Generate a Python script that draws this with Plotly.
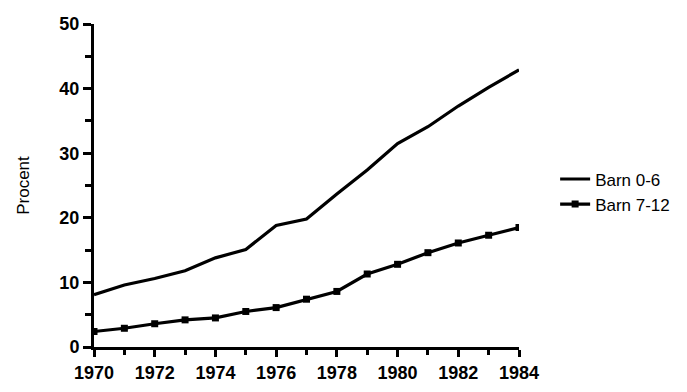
import plotly.graph_objects as go

years = list(range(1970, 1985))
barn_0_6 = [8.1, 9.6, 10.6, 11.8, 13.8, 15.1, 18.8, 19.8, 23.7, 27.4, 31.5, 34.1, 37.3, 40.2, 42.9]
barn_7_12 = [2.4, 2.9, 3.6, 4.2, 4.5, 5.5, 6.1, 7.4, 8.6, 11.3, 12.8, 14.6, 16.1, 17.3, 18.5]

fig = go.Figure()
fig.add_trace(go.Scatter(x=years, y=barn_0_6, mode="lines", name="Barn 0-6",
                         line=dict(color="black", width=3.2)))
fig.add_trace(go.Scatter(x=years, y=barn_7_12, mode="lines+markers", name="Barn 7-12",
                         line=dict(color="black", width=3.2),
                         marker=dict(symbol="square", size=7, color="black")))

tickfont = dict(family="Liberation Sans, Arial", size=18, color="black", weight="bold")
# page body has a default 8px margin, so the figure is 8px smaller and offset
fig.update_layout(
    width=679, height=384,
    margin=dict(l=86, r=163, t=16, b=45),
    paper_bgcolor="white", plot_bgcolor="white",
    showlegend=True,
    legend=dict(x=1.085, y=0.48, xanchor="left", yanchor="middle",
                font=dict(family="Liberation Sans, Arial", size=17, color="black"),
                itemwidth=30, tracegroupgap=0, bgcolor="rgba(0,0,0,0)"),
    xaxis=dict(range=[1970, 1984], tickvals=list(range(1970, 1985, 2)),
               automargin=False,
               showgrid=False, zeroline=False, showline=True, linecolor="black", linewidth=3,
               ticks="outside", ticklen=7, tickwidth=3, tickcolor="black",
               minor=dict(tickvals=years, ticks="outside", ticklen=5, tickwidth=3, tickcolor="black"),
               tickfont=tickfont),
    yaxis=dict(range=[0, 50], tickvals=[0, 10, 20, 30, 40, 50],
               automargin=False,
               showgrid=False, zeroline=False, showline=True, linecolor="black", linewidth=3,
               ticks="outside", ticklen=8, tickwidth=3, tickcolor="black",
               minor=dict(dtick=5, ticks="outside", ticklen=6, tickwidth=3, tickcolor="black"),
               tickfont=tickfont,
               title=dict(text="Procent", font=dict(family="Liberation Sans, Arial", size=17, color="black"),
                          standoff=26)),
)
fig.write_html("out.html")
